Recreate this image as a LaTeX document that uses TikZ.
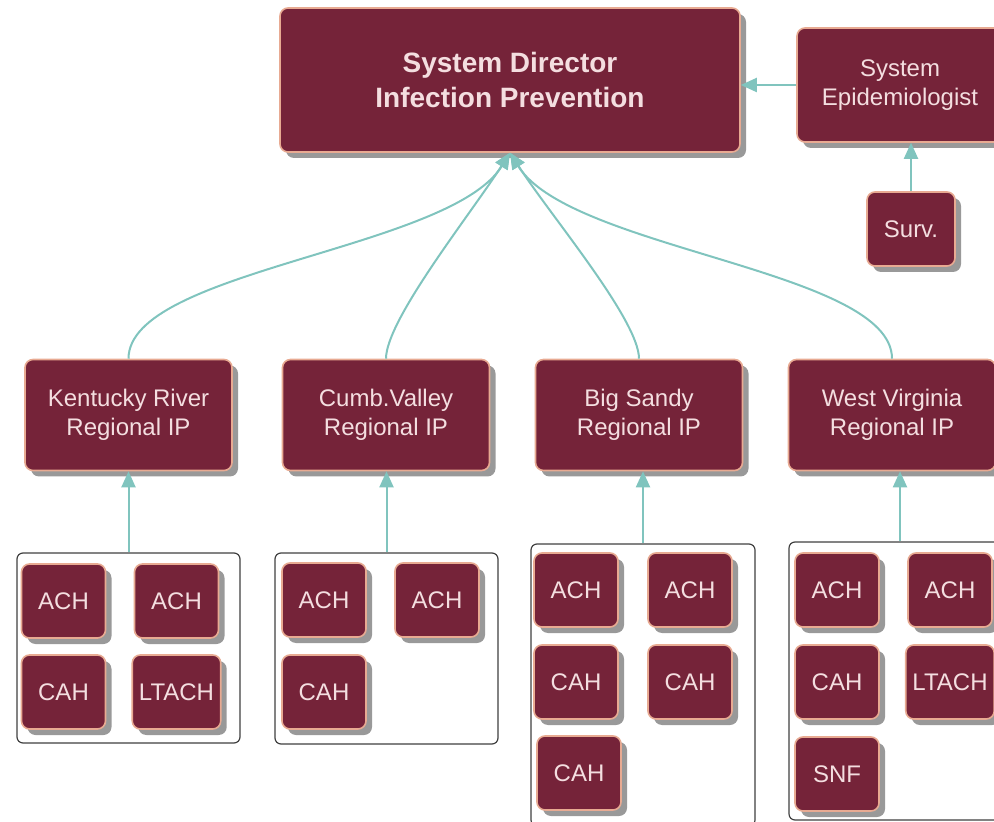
\documentclass[tikz,border=0pt]{standalone}
\usepackage{fontspec}
\setmainfont{Liberation Sans}
\usetikzlibrary{arrows.meta,shadows}

\definecolor{maroon}{RGB}{117,35,57}
\definecolor{peach}{RGB}{232,170,146}
\definecolor{blush}{RGB}{244,222,224}
\definecolor{seafoam}{RGB}{128,196,190}

\tikzset{
  unit/.style = {draw = peach, line width = 0.8pt, fill = maroon, text = blush,
    rounded corners = 4pt, align = center, font = \fontsize{12}{14.5}\selectfont,
    drop shadow = {shadow xshift = 3pt, shadow yshift = -3pt, fill = black, opacity = 0.4}},
  head/.style = {minimum width = 230pt, minimum height = 72pt,
    font = \bfseries\fontsize{14}{17.5}\selectfont},
  region/.style = {minimum width = 103.5pt, minimum height = 55.5pt},
  site/.style = {minimum width = 42pt, minimum height = 37pt},
  group/.style = {draw = black!75, line width = 0.6pt, fill = white, rounded corners = 3pt},
  link/.style = {draw = seafoam, line width = 1pt, -{Triangle[width = 7pt, length = 8pt]}}
}

\begin{document}
\begin{tikzpicture}[x = 0.5pt, y = -0.5pt]
  \useasboundingbox (0, 0) rectangle (994, 822);

  \node[unit, head] (dir) at (510, 80) {System Director\\Infection Prevention};
  \node[unit, minimum width = 103pt, minimum height = 57pt] (epi) at (900, 85) {System\\Epidemiologist};
  \node[unit, site, minimum width = 44pt] (surv) at (911, 229) {Surv.};

  \node[unit, region] (ky) at (128.5, 415) {Kentucky River\\Regional IP};
  \node[unit, region] (cv) at (386, 415) {Cumb.Valley\\Regional IP};
  \node[unit, region] (bs) at (639, 415) {Big Sandy\\Regional IP};
  \node[unit, region] (wv) at (892, 415) {West Virginia\\Regional IP};

  \node[group, minimum width = 111.5pt, minimum height = 95pt] (kyg) at (128.5, 648) {};
  \node[group, minimum width = 111.5pt, minimum height = 95.5pt] (cvg) at (386.5, 648.5) {};
  \node[group, minimum width = 112pt, minimum height = 141pt] (bsg) at (643, 685) {};
  \node[group, minimum width = 111pt, minimum height = 139pt] (wvg) at (900, 681) {};

  \node[unit, site] (ky1) at (63.5, 601) {ACH};
  \node[unit, site] (ky2) at (176.5, 601) {ACH};
  \node[unit, site] (ky3) at (63.5, 692) {CAH};
  \node[unit, site] (ky4) at (176.5, 692) {LTACH};

  \node[unit, site] (cv1) at (324, 600) {ACH};
  \node[unit, site] (cv2) at (437, 600) {ACH};
  \node[unit, site] (cv3) at (324, 692) {CAH};

  \node[unit, site] (bs1) at (576, 590) {ACH};
  \node[unit, site] (bs2) at (690, 590) {ACH};
  \node[unit, site] (bs3) at (576, 682) {CAH};
  \node[unit, site] (bs4) at (690, 682) {CAH};
  \node[unit, site] (bs5) at (579, 773) {CAH};

  \node[unit, site] (wv1) at (837, 590) {ACH};
  \node[unit, site] (wv2) at (950, 590) {ACH};
  \node[unit, site] (wv3) at (837, 682) {CAH};
  \node[unit, site] (wv4) at (950, 682) {LTACH};
  \node[unit, site] (wv5) at (837, 774) {SNF};

  \draw[link] (surv) -- (surv |- epi.south);
  \draw[link] (epi.west) -- (epi.west -| dir.east);

  \draw[link] (ky.north) .. controls (128.5, 270) and (450, 250) .. (dir.south);
  \draw[link] (cv.north) .. controls (386, 320) and (470, 215) .. (dir.south);
  \draw[link] (bs.north) .. controls (639, 320) and (550, 215) .. (dir.south);
  \draw[link] (wv.north) .. controls (892, 270) and (570, 250) .. (dir.south);

  \draw[link] (kyg.north) -- (kyg.north |- ky.south);
  \draw[link] (cvg.north) -- (cvg.north |- cv.south);
  \draw[link] (bsg.north) -- (bsg.north |- bs.south);
  \draw[link] (wvg.north) -- (wvg.north |- wv.south);
\end{tikzpicture}
\end{document}
